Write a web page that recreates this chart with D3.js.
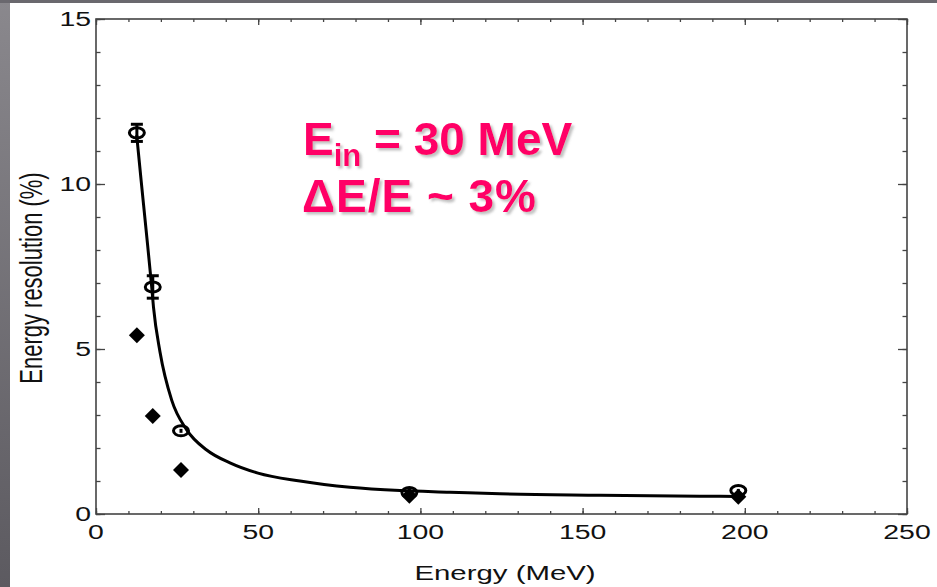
<!DOCTYPE html>
<html><head><meta charset="utf-8">
<script src="https://cdn.jsdelivr.net/npm/d3@7"></script>
<style>
html,body{margin:0;padding:0;background:#fff;}
svg{display:block;}
text{font-family:"Liberation Sans",Arial,Helvetica,sans-serif;}
</style></head>
<body>
<script>
// Data
const circX   = [12.6, 17.5, 26.2, 96.6, 198];
const circY   = [11.55, 6.88, 2.52, 0.65, 0.71];
const circErr = [0.26, 0.34, 0.06, 0.05, 0.05];
const diaX    = [12.6, 17.5, 26.2, 96.6, 198];
const diaY    = [5.42, 2.97, 1.33, 0.55, 0.52];
const fitX = [12.54, 13.87, 15.41, 17.17, 17.72, 19.73, 23.33, 27.96, 34.12, 41.30, 49.93, 62.88, 78.29, 93.70, 109.11, 124.52, 155.35, 186.17, 197.88];
const fitY = [11.48, 10.15, 8.64, 6.88, 6.27, 4.91, 3.45, 2.55, 1.94, 1.55, 1.24, 1.00, 0.81, 0.71, 0.66, 0.61, 0.57, 0.54, 0.53];
const xTicks = [0, 50, 100, 150, 200, 250];
const yTicks = [0, 5, 10, 15];
const xLabel = "Energy (MeV)";
const yLabel = "Energy resolution (%)";

const W = 937, H = 587;
const L = 96, R = 907, T = 19, B = 514;
const SX = 1.42; // horizontal stretch of the original slide text

const svg = d3.select("body").append("svg").attr("width", W).attr("height", H);
const defs = svg.append("defs");
const flt = defs.append("filter").attr("id","sh").attr("x","-5%").attr("y","-10%").attr("width","115%").attr("height","130%");
flt.append("feDropShadow").attr("dx",2.5).attr("dy",2.5).attr("stdDeviation",0.8)
  .attr("flood-color","#777").attr("flood-opacity",0.45);

// slide background strips
svg.append("rect").attr("x",0).attr("y",0).attr("width",W).attr("height",H).attr("fill","#fff");
const grad = defs.append("linearGradient").attr("id","lg").attr("x1",0).attr("y1",0).attr("x2",0).attr("y2",1);
grad.append("stop").attr("offset","0%").attr("stop-color","#8a888d");
grad.append("stop").attr("offset","100%").attr("stop-color","#5c5a60");
svg.append("rect").attr("x",0).attr("y",0).attr("width",10).attr("height",H).attr("fill","url(#lg)");
svg.append("rect").attr("x",0).attr("y",0).attr("width",W).attr("height",3).attr("fill","#6a686e");

const x = d3.scaleLinear().domain([0,250]).range([L,R]);
const y = d3.scaleLinear().domain([0,15]).range([B,T]);

const axisColor = "#444";
svg.append("rect").attr("x",L).attr("y",T).attr("width",R-L).attr("height",B-T)
  .attr("fill","none").attr("stroke",axisColor).attr("stroke-width",1.6);

function styleAxis(g){
  g.select(".domain").remove();
  g.selectAll("line").attr("stroke",axisColor).attr("stroke-width",1.3);
  g.selectAll("text").remove();
}
const xMinor = d3.range(0,251,10);
const yMinor = d3.range(0,15.01,1);
svg.append("g").attr("transform",`translate(0,${B})`).call(d3.axisTop(x).tickValues(xMinor).tickSize(3)).call(styleAxis);
svg.append("g").attr("transform",`translate(0,${B})`).call(d3.axisTop(x).tickValues(xTicks).tickSize(6)).call(styleAxis);
svg.append("g").attr("transform",`translate(0,${T})`).call(d3.axisBottom(x).tickValues(xMinor).tickSize(3)).call(styleAxis);
svg.append("g").attr("transform",`translate(0,${T})`).call(d3.axisBottom(x).tickValues(xTicks).tickSize(6)).call(styleAxis);
svg.append("g").attr("transform",`translate(${L},0)`).call(d3.axisRight(y).tickValues(yMinor).tickSize(4.5)).call(styleAxis);
svg.append("g").attr("transform",`translate(${L},0)`).call(d3.axisRight(y).tickValues(yTicks).tickSize(9)).call(styleAxis);
svg.append("g").attr("transform",`translate(${R},0)`).call(d3.axisLeft(y).tickValues(yMinor).tickSize(4.5)).call(styleAxis);
svg.append("g").attr("transform",`translate(${R},0)`).call(d3.axisLeft(y).tickValues(yTicks).tickSize(9)).call(styleAxis);

xTicks.forEach(v=>{
  svg.append("text").attr("transform",`translate(${x(v)},539) scale(${SX},1)`)
    .attr("text-anchor","middle").attr("font-size",20).attr("fill","#111").text(v);
});
yTicks.forEach(v=>{
  svg.append("text").attr("transform",`translate(91,${y(v)+7}) scale(${SX},1)`)
    .attr("text-anchor","end").attr("font-size",20).attr("fill","#111").text(v);
});
svg.append("text").attr("transform",`translate(505,580) scale(${SX+0.05},1)`)
  .attr("text-anchor","middle").attr("font-size",20).attr("fill","#111").text(xLabel);
svg.append("text").attr("transform",`translate(42,278) scale(${SX},1) rotate(-90)`)
  .attr("text-anchor","middle").attr("font-size",22).attr("fill","#111").text(yLabel);

// fit curve
const fit = fitX.map((v,i)=>[v,fitY[i]]);
svg.append("path").datum(fit)
  .attr("d", d3.line().x(d=>x(d[0])).y(d=>y(d[1])).curve(d3.curveMonotoneX))
  .attr("fill","none").attr("stroke","#000").attr("stroke-width",3);

// diamonds
const ds = 8;
svg.selectAll(".dia").data(diaX.map((v,i)=>[v,diaY[i]])).enter().append("path")
  .attr("d", d=>{const cx=x(d[0]), cy=y(d[1]); return `M${cx},${cy-ds}L${cx+ds},${cy}L${cx},${cy+ds}L${cx-ds},${cy}Z`;})
  .attr("fill","#000");

// open circles with error bars
const circ = circX.map((v,i)=>({x:v,y:circY[i],e:circErr[i]}));
const cg = svg.selectAll(".circ").data(circ).enter().append("g");
cg.append("line").attr("x1",d=>x(d.x)).attr("x2",d=>x(d.x))
  .attr("y1",d=>y(d.y+d.e)).attr("y2",d=>y(d.y-d.e)).attr("stroke","#000").attr("stroke-width",3);
cg.filter(d=>d.e>0.1).append("line").attr("x1",d=>x(d.x)-6).attr("x2",d=>x(d.x)+6)
  .attr("y1",d=>y(d.y+d.e)).attr("y2",d=>y(d.y+d.e)).attr("stroke","#000").attr("stroke-width",3);
cg.filter(d=>d.e>0.1).append("line").attr("x1",d=>x(d.x)-6).attr("x2",d=>x(d.x)+6)
  .attr("y1",d=>y(d.y-d.e)).attr("y2",d=>y(d.y-d.e)).attr("stroke","#000").attr("stroke-width",3);
cg.append("ellipse").attr("cx",d=>x(d.x)).attr("cy",d=>y(d.y)).attr("rx",7.5).attr("ry",5)
  .attr("fill","none").attr("stroke","#000").attr("stroke-width",3);

// annotation
const ng = svg.append("g").attr("filter","url(#sh)");
const t1 = ng.append("text").attr("x",303).attr("y",155).attr("font-size",46).attr("font-weight","bold").attr("fill","#ff0066");
t1.append("tspan").text("E");
t1.append("tspan").attr("font-size",31).attr("dy",11).text("in");
t1.append("tspan").attr("dy",-11).text(" = 30 MeV");
ng.append("text").attr("x",302).attr("y",212).attr("font-size",46).attr("font-weight","bold")
  .attr("fill","#ff0066").attr("textLength",234).attr("lengthAdjust","spacing").text("ΔE/E ~ 3%");
</script>
</body></html>
